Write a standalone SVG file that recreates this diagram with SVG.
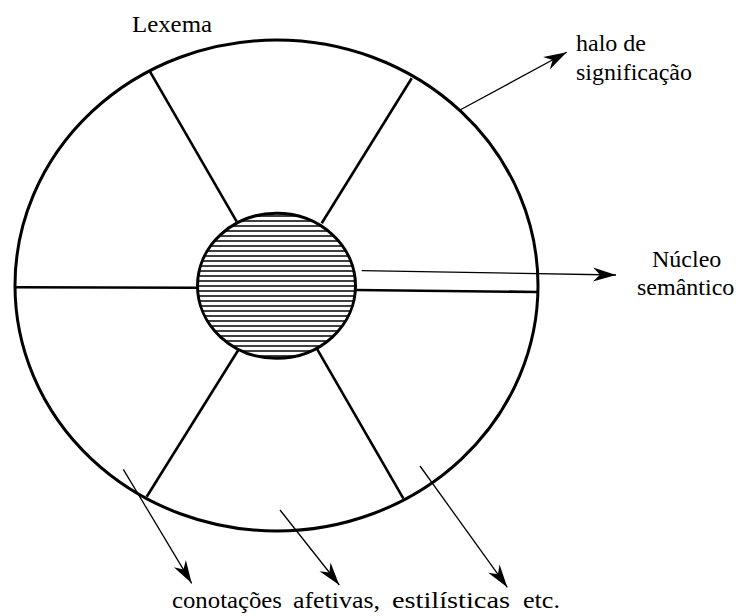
<svg xmlns="http://www.w3.org/2000/svg" width="736" height="616" viewBox="0 0 736 616">
<style>
.thick{fill:none;stroke:#000;stroke-width:3;stroke-linecap:round}
.spoke{fill:none;stroke:#000;stroke-width:2.6;stroke-linecap:butt}
.thin{fill:none;stroke:#000;stroke-width:1.3}
.hatch{stroke:#000;stroke-width:1.4}
.lbl{font-size:24px;fill:#000}
</style>
<defs>
<marker id="arr" markerUnits="userSpaceOnUse" viewBox="-24 -8 26 16" markerWidth="26" markerHeight="16" refX="0" refY="0" orient="auto">
<path d="M0,0 L-23,-7 L-16,0 L-23,7 Z" fill="#000"/>
</marker>
<clipPath id="nclip"><ellipse cx="276.5" cy="285.8" rx="79" ry="72.5"/></clipPath>
</defs>
<rect width="736" height="616" fill="#fff"/>
<g id="lexema">
<ellipse class="thick" cx="276.5" cy="285.5" rx="261.5" ry="245.5"/>
<text class="lbl" font-family="Liberation Serif, DejaVu Serif, serif" x="132" y="32" textLength="80" lengthAdjust="spacingAndGlyphs">Lexema</text>
</g>
<g id="spokes">
<line class="spoke" x1="236.7" y1="221.7" x2="150" y2="71.7"/>
<line class="spoke" x1="321.7" y1="223.3" x2="411.7" y2="78.3"/>
<line class="spoke" x1="238.3" y1="350" x2="146.7" y2="496.7"/>
<line class="spoke" x1="316.7" y1="348.3" x2="403.3" y2="498.3"/>
<line class="spoke" x1="15" y1="287.3" x2="197.5" y2="287.7"/>
<line class="spoke" x1="355.5" y1="290" x2="538" y2="292"/>
</g>
<g id="nucleo">
<g clip-path="url(#nclip)">
<line class="hatch" x1="190" x2="360" y1="216" y2="216"/>
<line class="hatch" x1="190" x2="360" y1="221" y2="221"/>
<line class="hatch" x1="190" x2="360" y1="226" y2="226"/>
<line class="hatch" x1="190" x2="360" y1="231" y2="231"/>
<line class="hatch" x1="190" x2="360" y1="236" y2="236"/>
<line class="hatch" x1="190" x2="360" y1="241" y2="241"/>
<line class="hatch" x1="190" x2="360" y1="246" y2="246"/>
<line class="hatch" x1="190" x2="360" y1="251" y2="251"/>
<line class="hatch" x1="190" x2="360" y1="256" y2="256"/>
<line class="hatch" x1="190" x2="360" y1="261" y2="261"/>
<line class="hatch" x1="190" x2="360" y1="266" y2="266"/>
<line class="hatch" x1="190" x2="360" y1="271" y2="271"/>
<line class="hatch" x1="190" x2="360" y1="276" y2="276"/>
<line class="hatch" x1="190" x2="360" y1="281" y2="281"/>
<line class="hatch" x1="190" x2="360" y1="286" y2="286"/>
<line class="hatch" x1="190" x2="360" y1="291" y2="291"/>
<line class="hatch" x1="190" x2="360" y1="296" y2="296"/>
<line class="hatch" x1="190" x2="360" y1="301" y2="301"/>
<line class="hatch" x1="190" x2="360" y1="306" y2="306"/>
<line class="hatch" x1="190" x2="360" y1="311" y2="311"/>
<line class="hatch" x1="190" x2="360" y1="316" y2="316"/>
<line class="hatch" x1="190" x2="360" y1="321" y2="321"/>
<line class="hatch" x1="190" x2="360" y1="326" y2="326"/>
<line class="hatch" x1="190" x2="360" y1="331" y2="331"/>
<line class="hatch" x1="190" x2="360" y1="336" y2="336"/>
<line class="hatch" x1="190" x2="360" y1="341" y2="341"/>
<line class="hatch" x1="190" x2="360" y1="346" y2="346"/>
<line class="hatch" x1="190" x2="360" y1="351" y2="351"/>
<line class="hatch" x1="190" x2="360" y1="356" y2="356"/>
</g>
<ellipse class="thick" cx="276.5" cy="285.8" rx="79" ry="72.5"/>
</g>
<g id="halo-label" font-family="Liberation Serif, DejaVu Serif, serif">
<text class="lbl" x="576" y="51">halo de</text>
<text class="lbl" x="576" y="80">significação</text>
</g>
<g id="nucleo-label" font-family="Liberation Serif, DejaVu Serif, serif">
<text class="lbl" x="652" y="267">Núcleo</text>
<text class="lbl" x="637" y="295">semântico</text>
</g>
<g id="conotacoes-label" font-family="Liberation Serif, DejaVu Serif, serif">
<text class="lbl" x="172" y="608" textLength="110" lengthAdjust="spacingAndGlyphs">conotações</text>
<text class="lbl" x="293" y="608" textLength="87" lengthAdjust="spacingAndGlyphs">afetivas,</text>
<text class="lbl" x="392" y="608" textLength="118" lengthAdjust="spacingAndGlyphs">estilísticas</text>
<text class="lbl" x="523" y="608" textLength="37" lengthAdjust="spacingAndGlyphs">etc.</text>
</g>
<g id="connectors">
<line class="thin" x1="460" y1="110" x2="566.7" y2="52.3" marker-end="url(#arr)"/>
<line class="thin" x1="361.7" y1="270.7" x2="616" y2="275" marker-end="url(#arr)"/>
<line class="thin" x1="123.3" y1="469.3" x2="191.7" y2="583.3" marker-end="url(#arr)"/>
<line class="thin" x1="280" y1="510" x2="339.3" y2="585" marker-end="url(#arr)"/>
<line class="thin" x1="420" y1="466" x2="507.3" y2="587.3" marker-end="url(#arr)"/>
</g>
</svg>
